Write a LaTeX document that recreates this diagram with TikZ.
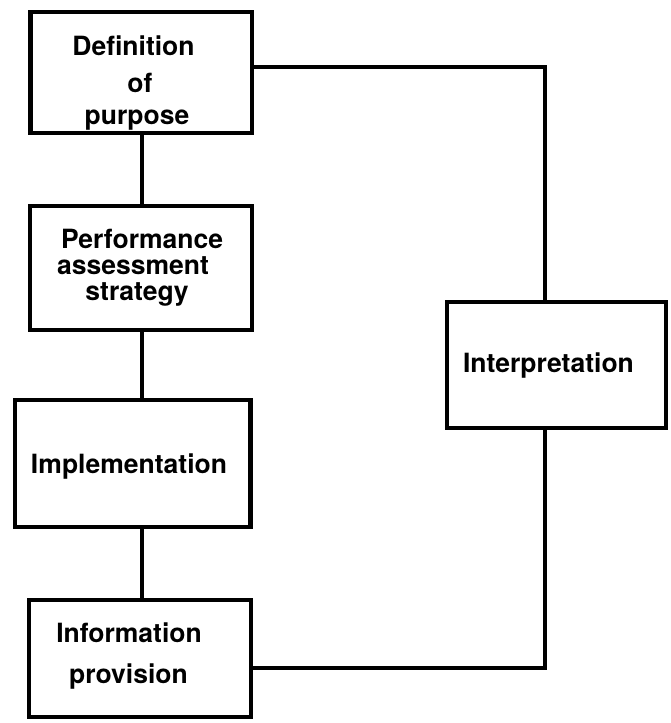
\documentclass[tikz,border=0pt]{standalone}
\usepackage{fontspec}
\setmainfont{TeX Gyre Heros}
\begin{document}
\begin{tikzpicture}[x=1pt,y=-1pt,
  box/.style={draw=black,line width=4.5pt,inner sep=0pt,fill=white},
  link/.style={draw=black,line width=4.5pt,line join=miter},
  lbl/.style={anchor=base,inner sep=0pt,font=\fontsize{26.5}{26.5}\selectfont\bfseries}]
\useasboundingbox (0,0) rectangle (670,723);
\fill[white] (0,0) rectangle (670,723);

% boxes of the left column and the interpretation box
\node[box,minimum width=221.5pt,minimum height=121pt] (def)    at (141,72.5)   {};
\node[box,minimum width=222pt,minimum height=124pt]   (perf)   at (141,268)    {};
\node[box,minimum width=235.5pt,minimum height=127pt] (impl)   at (132.75,463.5) {};
\node[box,minimum width=222pt,minimum height=117pt]   (info)   at (140,658.5)  {};
\node[box,minimum width=219pt,minimum height=126pt]   (interp) at (556.5,365)  {};

% box texts
\node[lbl] (tdef1) at (133.5,55)  {Definition};
\node[lbl] (tdef2) at (140,92)    {of};
\node[lbl] (tdef3) at (137,124)   {purpose};
\node[lbl] (tperf1) at (142,248)  {Performance};
\node[lbl] (tperf2) at (133,274.5){assessment};
\node[lbl] (tperf3) at (137,300)  {strategy};
\node[lbl] (timpl) at (129,473)   {Implementation};
\node[lbl] (tinfo1) at (129,642)  {Information};
\node[lbl] (tinfo2) at (128.5,683){provision};
\node[lbl] (tint) at (548.5,372)  {Interpretation};

% guide points for the connectors
\coordinate (spine) at (142,0);
\coordinate (railtop) at (545,67);
\coordinate (railbot) at (545,668);

% vertical links in the left column
\draw[link] (def.south -| spine)  -- (perf.north -| spine);
\draw[link] (perf.south -| spine) -- (impl.north -| spine);
\draw[link] (impl.south -| spine) -- (info.north -| spine);

% loop through the interpretation box
\draw[link] (def.east |- railtop) -| (interp.north -| railtop);
\draw[link] (interp.south -| railbot) |- (info.east |- railbot);
\end{tikzpicture}
\end{document}
